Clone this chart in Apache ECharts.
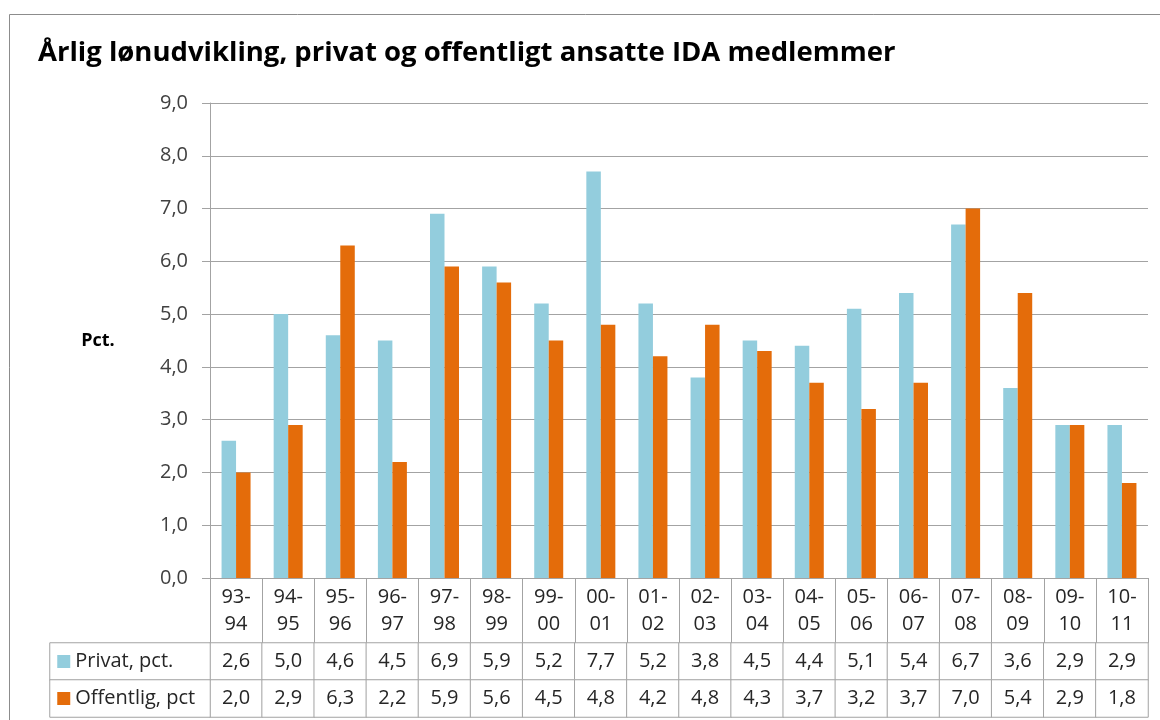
<!DOCTYPE html>
<html><head><meta charset="utf-8">
<script src="https://cdn.jsdelivr.net/npm/echarts@6/dist/echarts.min.js"></script>
<style>html,body{margin:0;padding:0;background:#fff}#c{width:1160px;height:720px}</style>
</head><body><div id="c"></div>
<script>
const titleText = 'Årlig lønudvikling, privat og offentligt ansatte IDA medlemmer';
const yName = 'Pct.';
const categories = ['93-94','94-95','95-96','96-97','97-98','98-99','99-00','00-01','01-02','02-03','03-04','04-05','05-06','06-07','07-08','08-09','09-10','10-11'];
const seriesNames = ['Privat, pct.', 'Offentlig, pct'];
const privat = [2.6,5.0,4.6,4.5,6.9,5.9,5.2,7.7,5.2,3.8,4.5,4.4,5.1,5.4,6.7,3.6,2.9,2.9];
const offentlig = [2.0,2.9,6.3,2.2,5.9,5.6,4.5,4.8,4.2,4.8,4.3,3.7,3.2,3.7,7.0,5.4,2.9,1.8];
const yMin = 0, yMax = 9, yStep = 1;

const colors = ['#93CDDD', '#E46C0A'];
const FONT = '"Open Sans", sans-serif';
const GRAY = '#A3A3A3';
const TXT = '#262626';
const fmt = v => Number(v).toFixed(1).replace('.', ',');
const seriesValues = [privat, offentlig];

const tableData = [];
seriesValues.forEach((arr, r) => arr.forEach((v, i) => tableData.push([i, r, v])));
const legendData = seriesNames.map((n, r) => [0, r, r]);

const chart = echarts.init(document.getElementById('c'), null, {renderer: 'canvas'});
chart.setOption({
  backgroundColor: '#fff',
  animation: false,
  textStyle: {fontFamily: FONT},
  title: {
    text: titleText, left: 33, top: 34,
    textStyle: {fontFamily: FONT, fontSize: 27.5, fontWeight: 'bold', color: '#000'}
  },
  graphic: [{
    type: 'rect', silent: true, z: -1,
    shape: {x: 9.5, y: 14.5, width: 1200, height: 800},
    style: {fill: 'none', stroke: '#8C8C8C', lineWidth: 1}
  }],
  grid: [
    {left: 210, right: 12, top: 103, bottom: 142},
    {left: 210, right: 12, top: 643, height: 74},
    {left: 50, width: 160, top: 643, height: 74}
  ],
  xAxis: [
    {
      gridIndex: 0, type: 'category', data: categories,
      axisLine: {show: true, lineStyle: {color: GRAY, width: 1}},
      axisTick: {show: true, length: 65, interval: 0, alignWithLabel: false, lineStyle: {color: GRAY}},
      axisLabel: {interval: 0, margin: 6, fontSize: 20, lineHeight: 27, color: TXT, fontFamily: FONT,
        formatter: v => v.replace('-', '-\n')},
      splitLine: {show: false}
    },
    {gridIndex: 1, type: 'category', data: categories, show: false},
    {gridIndex: 2, type: 'category', data: [''], show: false}
  ],
  yAxis: [
    {
      gridIndex: 0, type: 'value', min: yMin, max: yMax, interval: yStep,
      name: yName, nameLocation: 'middle', nameRotate: 0, nameGap: 112,
      nameTextStyle: {fontFamily: FONT, fontSize: 18, fontWeight: 'bold', color: '#000', align: 'center'},
      axisLine: {show: true, lineStyle: {color: GRAY, width: 1}},
      axisTick: {show: true, length: 8, lineStyle: {color: GRAY}},
      axisLabel: {margin: 22, fontSize: 20, color: '#404040', fontFamily: FONT, formatter: v => fmt(v)},
      splitLine: {show: true, lineStyle: {color: GRAY, width: 1}}
    },
    {gridIndex: 1, type: 'category', data: seriesNames, inverse: true, show: false},
    {gridIndex: 2, type: 'category', data: seriesNames, inverse: true, show: false}
  ],
  series: [
    {
      name: seriesNames[0], type: 'bar', xAxisIndex: 0, yAxisIndex: 0, data: privat,
      barWidth: 14.5, barGap: '0%', itemStyle: {color: colors[0]}
    },
    {
      name: seriesNames[1], type: 'bar', xAxisIndex: 0, yAxisIndex: 0, data: offentlig,
      barWidth: 14.5, barGap: '0%', itemStyle: {color: colors[1]}
    },
    {
      type: 'heatmap', xAxisIndex: 1, yAxisIndex: 1, data: tableData,
      itemStyle: {color: '#fff', borderColor: GRAY, borderWidth: 1},
      label: {show: true, fontSize: 20, color: TXT, fontFamily: FONT, formatter: p => fmt(p.data[2])},
      emphasis: {disabled: true}
    },
    {
      type: 'heatmap', xAxisIndex: 2, yAxisIndex: 2, data: legendData,
      itemStyle: {color: '#fff', borderColor: GRAY, borderWidth: 1},
      label: {
        show: true, position: [8, '50%'], align: 'left', verticalAlign: 'middle',
        formatter: p => '{s' + p.data[1] + '|}{t|' + seriesNames[p.data[1]] + '}',
        rich: {
          s0: {width: 13, height: 13, backgroundColor: colors[0], verticalAlign: 'middle'},
          s1: {width: 13, height: 13, backgroundColor: colors[1], verticalAlign: 'middle'},
          t: {fontSize: 20, color: TXT, fontFamily: FONT, padding: [0, 0, 0, 5], verticalAlign: 'middle'}
        }
      },
      emphasis: {disabled: true}
    }
  ]
});
</script></body></html>
